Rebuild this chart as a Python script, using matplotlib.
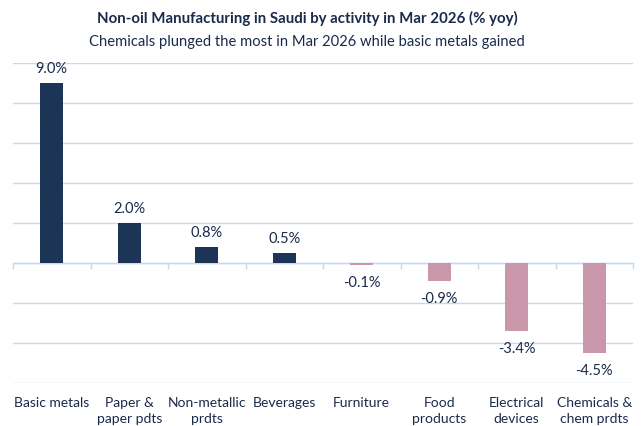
import matplotlib
matplotlib.use("Agg")
import matplotlib.pyplot as plt
import numpy as np

categories = ["Basic metals", "Paper &\npaper pdts", "Non-metallic\nprdts", "Beverages",
              "Furniture", "Food\nproducts", "Electrical\ndevices", "Chemicals &\nchem prdts"]
values = [9.0, 2.0, 0.8, 0.5, -0.1, -0.9, -3.4, -4.5]
value_labels = ["9.0%", "2.0%", "0.8%", "0.5%", "-0.1%", "-0.9%", "-3.4%", "-4.5%"]

plt.rcParams['font.family'] = ['Lato', 'DejaVu Sans']
navy = "#1c3557"
pink = "#c996aa"
grid_c = "#c6d9f0"
text_c = "#1a2a4a"

fig = plt.figure(figsize=(6.44, 4.26), dpi=100)
ax = fig.add_axes([13/644, 1-383/426, 620/644, 320/426])
x = np.arange(len(categories))
colors = [navy if v >= 0 else pink for v in values]
ax.bar(x, values, width=0.3, color=colors, zorder=3)
ax.set_xlim(-0.5, len(categories) - 0.5)
ax.set_ylim(-6, 10)
ax.set_yticks(np.arange(-6, 11, 2))
ax.yaxis.grid(True, color=grid_c, linewidth=1, zorder=0)
ax.tick_params(axis='y', length=0, labelleft=False)
for s in ax.spines.values():
    s.set_visible(False)
ax.set_xticks(x)
ax.set_xticklabels(categories, fontsize=10, color=text_c, linespacing=1.45, va='top')
ax.tick_params(axis='x', length=0, pad=10)

sec = ax.secondary_xaxis(6/16)
sec.set_xticks(np.arange(-0.5, len(categories), 1))
sec.tick_params(axis='x', length=4, color=grid_c, labelbottom=False, width=1)
sec.spines['bottom'].set_color(grid_c)
sec.spines['bottom'].set_linewidth(1)

for xi, v, lab in zip(x, values, value_labels):
    if v >= 0:
        ax.annotate(lab, (xi, v), xytext=(0, 5), textcoords='offset points',
                    ha='center', va='bottom', fontsize=10.5, color=text_c)
    else:
        ax.annotate(lab, (xi, v), xytext=(0, -8), textcoords='offset points',
                    ha='center', va='top', fontsize=10.5, color=text_c)

fig.text(307/644, 1-18/426, "Non-oil Manufacturing in Saudi by activity in Mar 2026 (% yoy)",
         ha='center', va='center', fontsize=10.8, fontweight='bold', color=text_c)
fig.text(307/644, 1-42/426, "Chemicals plunged the most in Mar 2026 while basic metals gained",
         ha='center', va='center', fontsize=10.6, color=text_c)

fig.savefig("out.png", dpi=100)
